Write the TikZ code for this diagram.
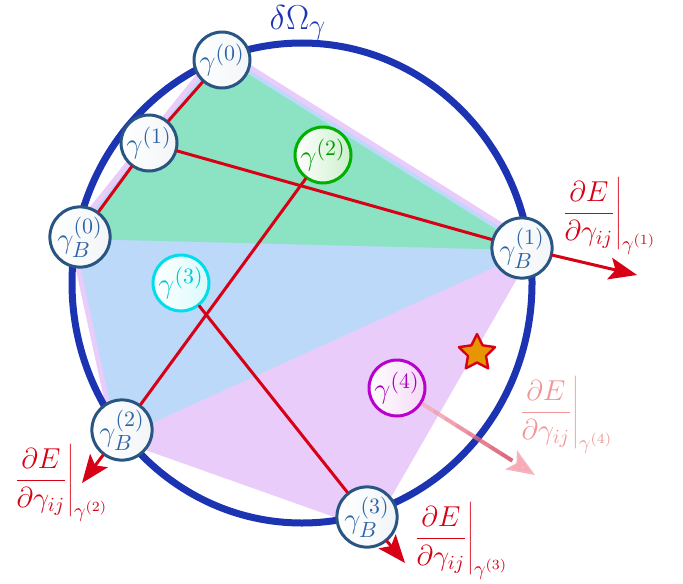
\documentclass[tikz,border=0pt]{standalone}
\usetikzlibrary{arrows.meta,calc,shapes.geometric}

\definecolor{boundblue}{RGB}{28,52,178}
\definecolor{gradred}{RGB}{215,0,20}
\definecolor{nodeline}{RGB}{40,85,130}
\definecolor{nodetext}{RGB}{45,100,165}
\definecolor{hullgreen}{RGB}{140,227,196}
\definecolor{hullblue}{RGB}{188,217,250}
\definecolor{hullpink}{RGB}{233,204,250}
\definecolor{pgreen}{RGB}{0,175,0}
\definecolor{pcyan}{RGB}{0,222,235}
\definecolor{pviolet}{RGB}{185,0,205}
\definecolor{fadeA}{RGB}{205,35,65}
\definecolor{fadeB}{RGB}{245,170,182}
\definecolor{fadetip}{RGB}{238,140,155}
\definecolor{fadetext}{RGB}{240,150,150}
\definecolor{starfill}{RGB}{230,150,0}

\newcommand{\gradE}[1]{$\displaystyle\left.\frac{\partial E}{\partial\gamma_{ij}}\right|_{\gamma^{(#1)}}$}

\begin{document}
\begin{tikzpicture}[x=0.5pt, y=-0.5pt, >={Stealth[length=14pt,width=11pt,inset=3pt]}, line cap=round, line join=round]

% --- Styles ---
\tikzset{
    boundary/.style={
        draw=boundblue,
        line width=3.5pt
    },
    hull/.style={
        line join=round
    },
    state/.style={
        circle,
        draw=nodeline,
        line width=1.5pt,
        minimum size=28pt,
        inner sep=0pt,
        left color=white,
        right color=nodeline!6,
        text=nodetext,
        font=\fontsize{15.5}{18}\selectfont
    },
    edge/.style={
        draw=gradred,
        line width=1.5pt
    },
    grad/.style={
        ->,
        draw=gradred,
        fill=gradred,
        line width=1.5pt
    },
    gradlabel/.style={
        text=gradred,
        font=\Large,
        inner sep=0pt
    }
}

\useasboundingbox (0,0) rectangle (683,583);

% --- Points ---
\coordinate (c0)  at (222,60);
\coordinate (c1)  at (149,143);
\coordinate (cB0) at (80,237);
\coordinate (cB1) at (522,248);
\coordinate (cB2) at (122,430);
\coordinate (cB3) at (367,517);

% =========================================================================
% --- Hulls ---
% =========================================================================
\filldraw[hull, fill=hullpink, draw=hullpink, line width=11pt]
    (c0) -- (cB1) -- (cB3) -- (cB2) -- (cB0) -- cycle;
\filldraw[hull, fill=hullblue, draw=hullblue, line width=6pt]
    (c0) -- (cB1) -- (cB2) -- (cB0) -- cycle;
\filldraw[hull, fill=hullgreen, draw=hullgreen, line width=2pt]
    (c0) -- (cB1) -- (cB0) -- cycle;

% --- Boundary ---
\draw[boundary] (302,283) ellipse [x radius=115pt, y radius=120pt];
\node[text=boundblue, font=\fontsize{19}{22}\selectfont] (bnd) at (298,23) {$\delta\Omega_\gamma$};

% =========================================================================
% --- States ---
% =========================================================================
\node[state] (g0)  at (c0)  {$\gamma^{(0)}$};
\node[state] (g1)  at (c1)  {$\gamma^{(1)}$};
\node[state] (gB0) at (cB0) {$\gamma_B^{(0)}$};
\node[state] (gB1) at (cB1) {$\gamma_B^{(1)}$};
\node[state] (gB2) at (cB2) {$\gamma_B^{(2)}$};
\node[state] (gB3) at (cB3) {$\gamma_B^{(3)}$};
\node[state, draw=pgreen, right color=pgreen!20, text=pgreen!90!black] (g2) at (323,155) {$\gamma^{(2)}$};
\node[state, draw=pcyan, right color=pcyan!15, text=pcyan!90!black] (g3) at (181,283) {$\gamma^{(3)}$};
\node[state, draw=pviolet, right color=pviolet!15, text=pviolet!90!black] (g4) at (397,388) {$\gamma^{(4)}$};

\node[star, star points=5, star point ratio=2, minimum size=19pt, inner sep=0pt,
      fill=starfill, draw=gradred, line width=1.2pt] (opt) at (477,353) {};

% --- Line searches ---
\draw[edge] (g0) -- (g1);
\draw[edge] (g1) -- (gB0);
\draw[edge] (g1) -- (gB1);
\draw[edge] (g2) -- (gB2);
\draw[edge] (g3) -- (gB3);

% =========================================================================
% --- Gradients ---
% =========================================================================
\coordinate (t1) at (637,275);
\coordinate (t2) at (82,483);
\coordinate (t3) at (405,563);
\coordinate (t4) at (535,475);

\draw[grad] (gB1) -- (t1);
\draw[grad] (gB2) -- (t2);
\draw[grad] (gB3) -- (t3);

% faded one, drawn piece by piece
\foreach \i [evaluate=\i as \j using \i+0.1, evaluate=\i as \k using 100-110*\i] in {0,0.1,...,0.8}
    \draw[draw=fadeB!\k!fadeA, line width=2pt, line cap=butt, opacity=0.8]
        ($(g4.-32)!\i!(t4)$) -- ($(g4.-32)!\j!(t4)$);
\draw[->, draw=fadeB, fill=fadetip, line width=2pt, line cap=butt, opacity=0.9]
    ($(g4.-32)!0.88!(t4)$) -- (t4);

\node[gradlabel] (L1) at (608,216) {\gradE{1}};
\node[gradlabel] (L2) at (60,483)  {\gradE{2}};
\node[gradlabel] (L3) at (460,541) {\gradE{3}};
\node[gradlabel, text=fadetext] (L4) at (565,415) {\gradE{4}};

\end{tikzpicture}
\end{document}
